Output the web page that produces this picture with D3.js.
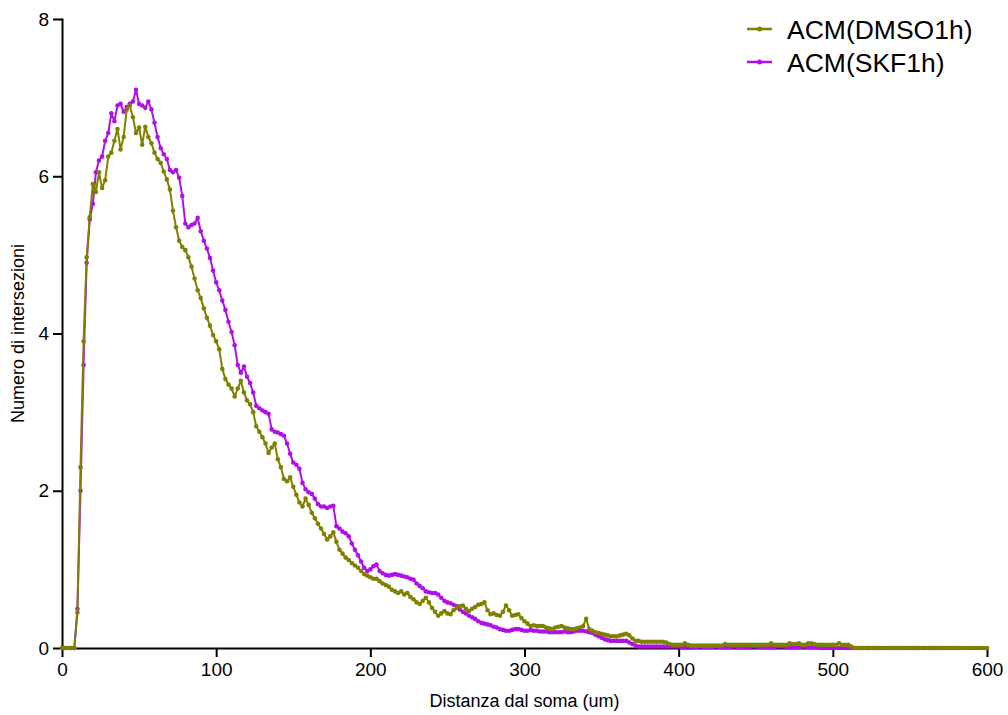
<!DOCTYPE html>
<html>
<head>
<meta charset="utf-8">
<script src="https://cdn.jsdelivr.net/npm/d3@7"></script>
<style>
  html, body { margin: 0; padding: 0; background: #fff; }
  svg { display: block; font-family: "Liberation Sans", Arial, sans-serif; }
  .axis path, .axis line { stroke: #000; stroke-width: 2px; }
  .axis text { font-size: 19px; fill: #000; }
  .axis-label { font-size: 18px; fill: #000; }
  .legend text { font-size: 26.5px; fill: #000; }
</style>
</head>
<body>
<svg width="1008" height="715"></svg>
<script>
// distance from soma, sampled every 2 um
const step = 2

const seriesNames = ['ACM(DMSO1h)', 'ACM(SKF1h)']
const seriesColors = ['#808000', '#b010e6']

const dmso =
    [ 0, 0, 0, 0, 0
    , 0.45, 2.3, 3.9, 4.97, 5.48
    , 5.9, 5.8, 6.05, 5.85, 5.95
    , 6.25, 6.3, 6.45, 6.6, 6.34
    , 6.5, 6.85, 6.9, 6.75, 6.55
    , 6.62, 6.4, 6.63, 6.5, 6.42
    , 6.3, 6.22, 6.17, 6.06, 5.96
    , 5.83, 5.56, 5.35, 5.18, 5.1
    , 5.06, 4.97, 4.85, 4.7, 4.55
    , 4.45, 4.32, 4.2, 4.1, 3.98
    , 3.9, 3.8, 3.55, 3.42, 3.35
    , 3.3, 3.2, 3.3, 3.4, 3.25
    , 3.15, 3.1, 3.0, 2.82, 2.75
    , 2.68, 2.6, 2.48, 2.55, 2.6
    , 2.4, 2.3, 2.15, 2.12, 2.17
    , 2.05, 1.95, 1.85, 1.8, 1.9
    , 1.82, 1.72, 1.65, 1.58, 1.52
    , 1.45, 1.38, 1.42, 1.47, 1.35
    , 1.25, 1.2, 1.15, 1.12, 1.08
    , 1.05, 1.02, 0.98, 0.94, 0.92
    , 0.9, 0.88, 0.88, 0.85, 0.82
    , 0.8, 0.78, 0.74, 0.72, 0.7
    , 0.72, 0.68, 0.7, 0.65, 0.62
    , 0.58, 0.56, 0.6, 0.64, 0.58
    , 0.51, 0.46, 0.41, 0.44, 0.47
    , 0.44, 0.43, 0.48, 0.51, 0.53
    , 0.54, 0.5, 0.47, 0.5, 0.52
    , 0.55, 0.56, 0.58, 0.48, 0.43
    , 0.44, 0.42, 0.41, 0.46, 0.54
    , 0.48, 0.41, 0.42, 0.43, 0.38
    , 0.34, 0.31, 0.28, 0.29, 0.28
    , 0.28, 0.28, 0.26, 0.25, 0.24
    , 0.26, 0.27, 0.28, 0.26, 0.25
    , 0.24, 0.24, 0.25, 0.26, 0.28
    , 0.37, 0.24, 0.22, 0.2, 0.19
    , 0.18, 0.17, 0.16, 0.15, 0.15
    , 0.15, 0.16, 0.17, 0.18, 0.16
    , 0.12, 0.09, 0.09, 0.08, 0.08
    , 0.08, 0.08, 0.08, 0.08, 0.08
    , 0.08, 0.07, 0.05, 0.04, 0.04
    , 0.04, 0.04, 0.06, 0.04, 0.03
    , 0.03, 0.03, 0.03, 0.03, 0.03, 0.03, 0.03, 0.03, 0.03, 0.03
    , 0.05, 0.04, 0.04, 0.04, 0.04, 0.04, 0.04, 0.04, 0.04, 0.04
    , 0.04, 0.04, 0.04, 0.04, 0.04, 0.06, 0.04, 0.04, 0.04, 0.04
    , 0.04, 0.06, 0.05, 0.05, 0.06, 0.04, 0.04, 0.06, 0.06, 0.05
    , 0.04, 0.04, 0.04, 0.04, 0.04, 0.04, 0.04, 0.06, 0.04, 0.04
    , 0.04, 0.02
    , 0, 0, 0, 0, 0, 0, 0, 0, 0, 0, 0, 0, 0, 0, 0, 0, 0, 0, 0, 0, 0, 0
    , 0, 0, 0, 0, 0, 0, 0, 0, 0, 0, 0, 0, 0, 0, 0, 0, 0, 0, 0, 0, 0, 0
    ]

const skf =
    [ 0, 0, 0, 0, 0
    , 0.5, 2.0, 3.6, 4.9, 5.45
    , 5.65, 6.05, 6.2, 6.25, 6.45
    , 6.55, 6.8, 6.7, 6.9, 6.92
    , 6.82, 6.88, 6.92, 6.95, 7.1
    , 6.92, 6.9, 6.87, 6.95, 6.85
    , 6.68, 6.5, 6.36, 6.28, 6.22
    , 6.08, 6.05, 6.08, 5.98, 5.75
    , 5.4, 5.35, 5.38, 5.4, 5.47
    , 5.3, 5.18, 5.08, 4.96, 4.8
    , 4.65, 4.55, 4.42, 4.3, 4.15
    , 4.02, 3.85, 3.6, 3.5, 3.58
    , 3.45, 3.37, 3.25, 3.08, 3.05
    , 3.02, 3.0, 2.98, 2.78, 2.75
    , 2.74, 2.72, 2.7, 2.6, 2.47
    , 2.36, 2.33, 2.28, 2.1, 2.02
    , 1.98, 1.96, 1.9, 1.83, 1.8
    , 1.8, 1.78, 1.8, 1.81, 1.55
    , 1.52, 1.48, 1.46, 1.42, 1.33
    , 1.25, 1.18, 1.1, 1.02, 0.98
    , 1.0, 1.04, 1.06, 0.98, 0.95
    , 0.93, 0.92, 0.93, 0.94, 0.93
    , 0.92, 0.91, 0.9, 0.88, 0.87
    , 0.82, 0.79, 0.76, 0.72, 0.71
    , 0.7, 0.7, 0.68, 0.64, 0.6
    , 0.58, 0.57, 0.55, 0.53, 0.49
    , 0.46, 0.44, 0.41, 0.39, 0.37
    , 0.34, 0.32, 0.31, 0.3, 0.29
    , 0.27, 0.26, 0.24, 0.23, 0.22
    , 0.22, 0.23, 0.24, 0.24, 0.23
    , 0.22, 0.22, 0.23, 0.22, 0.22
    , 0.21, 0.21, 0.21, 0.2, 0.2
    , 0.2, 0.2, 0.2, 0.21, 0.2
    , 0.2, 0.21, 0.22, 0.22, 0.22
    , 0.21, 0.2, 0.19, 0.17, 0.15
    , 0.13, 0.11, 0.1, 0.09, 0.09
    , 0.09, 0.09, 0.09, 0.09, 0.07
    , 0.05, 0.03, 0.02, 0.02, 0.02
    , 0.02, 0.02, 0.02, 0.02, 0.02, 0.02, 0.02, 0.02, 0.02, 0.02
    , 0.02, 0.01, 0.01, 0.02, 0.01, 0.01, 0.01, 0.02, 0.01, 0.01
    , 0.01, 0.01, 0.02, 0.01, 0.01, 0.01, 0.01, 0.01, 0.02, 0.01
    , 0.01, 0.01, 0.01, 0.01, 0.02, 0.02, 0.01, 0.01, 0.01, 0.01
    , 0.01, 0.01, 0.02, 0.02, 0.02, 0.01, 0.01, 0.01, 0.01, 0.01
    , 0.01, 0.02, 0.01, 0.01, 0.01, 0.01
    , 0, 0, 0, 0, 0, 0, 0, 0, 0, 0, 0, 0, 0, 0, 0, 0, 0, 0, 0, 0, 0, 0, 0
    , 0, 0, 0, 0, 0, 0, 0, 0, 0, 0, 0, 0, 0, 0, 0, 0, 0, 0, 0, 0, 0, 0
    ]

const xTicks = [0, 100, 200, 300, 400, 500, 600]
const yTicks = [0, 2, 4, 6, 8]

const plotLeft = 62
    , plotRight = 987
    , plotTop = 19
    , plotBottom = 648
    , scaleX = d3.scaleLinear().domain([0, 600]).range([plotLeft, plotRight])
    , scaleY = d3.scaleLinear().domain([0, 8]).range([plotBottom, plotTop])
    , svg = d3.select('svg')

const series = [dmso, skf].map((values, k) => ({
    name: seriesNames[k],
    color: seriesColors[k],
    points: values.map((v, i) => [i * step, v])
}))

// axes
svg.append('g')
    .attr('class', 'axis x')
    .attr('transform', `translate(0,${plotBottom})`)
    .call(d3.axisBottom(scaleX).tickValues(xTicks).tickSize(9).tickSizeOuter(0).tickPadding(6))
svg.append('g')
    .attr('class', 'axis y')
    .attr('transform', `translate(${plotLeft},0)`)
    .call(d3.axisLeft(scaleY).tickValues(yTicks).tickSize(9).tickSizeOuter(0).tickPadding(4))
svg.selectAll('.axis .domain').attr('stroke-linecap', 'square')

svg.append('text')
    .attr('class', 'axis-label')
    .attr('text-anchor', 'middle')
    .attr('x', (plotLeft + plotRight) / 2)
    .attr('y', 707)
    .text('Distanza dal soma (um)')
svg.append('text')
    .attr('class', 'axis-label')
    .attr('text-anchor', 'middle')
    .attr('transform', `translate(24,${(plotTop + plotBottom) / 2}) rotate(-90)`)
    .text('Numero di intersezioni')

// lines, SKF underneath DMSO
const line = d3.line().x(d => scaleX(d[0])).y(d => scaleY(d[1]))
series.slice().reverse().forEach(s => {
    const g = svg.append('g')
    g.append('path')
        .attr('d', line(s.points))
        .attr('fill', 'none')
        .attr('stroke', s.color)
        .attr('stroke-width', 2)
        .attr('stroke-linejoin', 'round')
    g.selectAll('circle')
        .data(s.points)
        .join('circle')
        .attr('cx', d => scaleX(d[0]))
        .attr('cy', d => scaleY(d[1]))
        .attr('r', 2.3)
        .attr('fill', s.color)
})

// legend
const legend = svg.append('g').attr('class', 'legend')
series.forEach((s, k) => {
    const y = 29 + k * 33
    legend.append('line')
        .attr('x1', 747).attr('x2', 772)
        .attr('y1', y).attr('y2', y)
        .attr('stroke', s.color)
        .attr('stroke-width', 2.5)
    legend.append('circle')
        .attr('cx', 759.5).attr('cy', y).attr('r', 2.5)
        .attr('fill', s.color)
    legend.append('text')
        .attr('x', 787)
        .attr('y', y + 10)
        .text(s.name)
})
</script>
</body>
</html>
